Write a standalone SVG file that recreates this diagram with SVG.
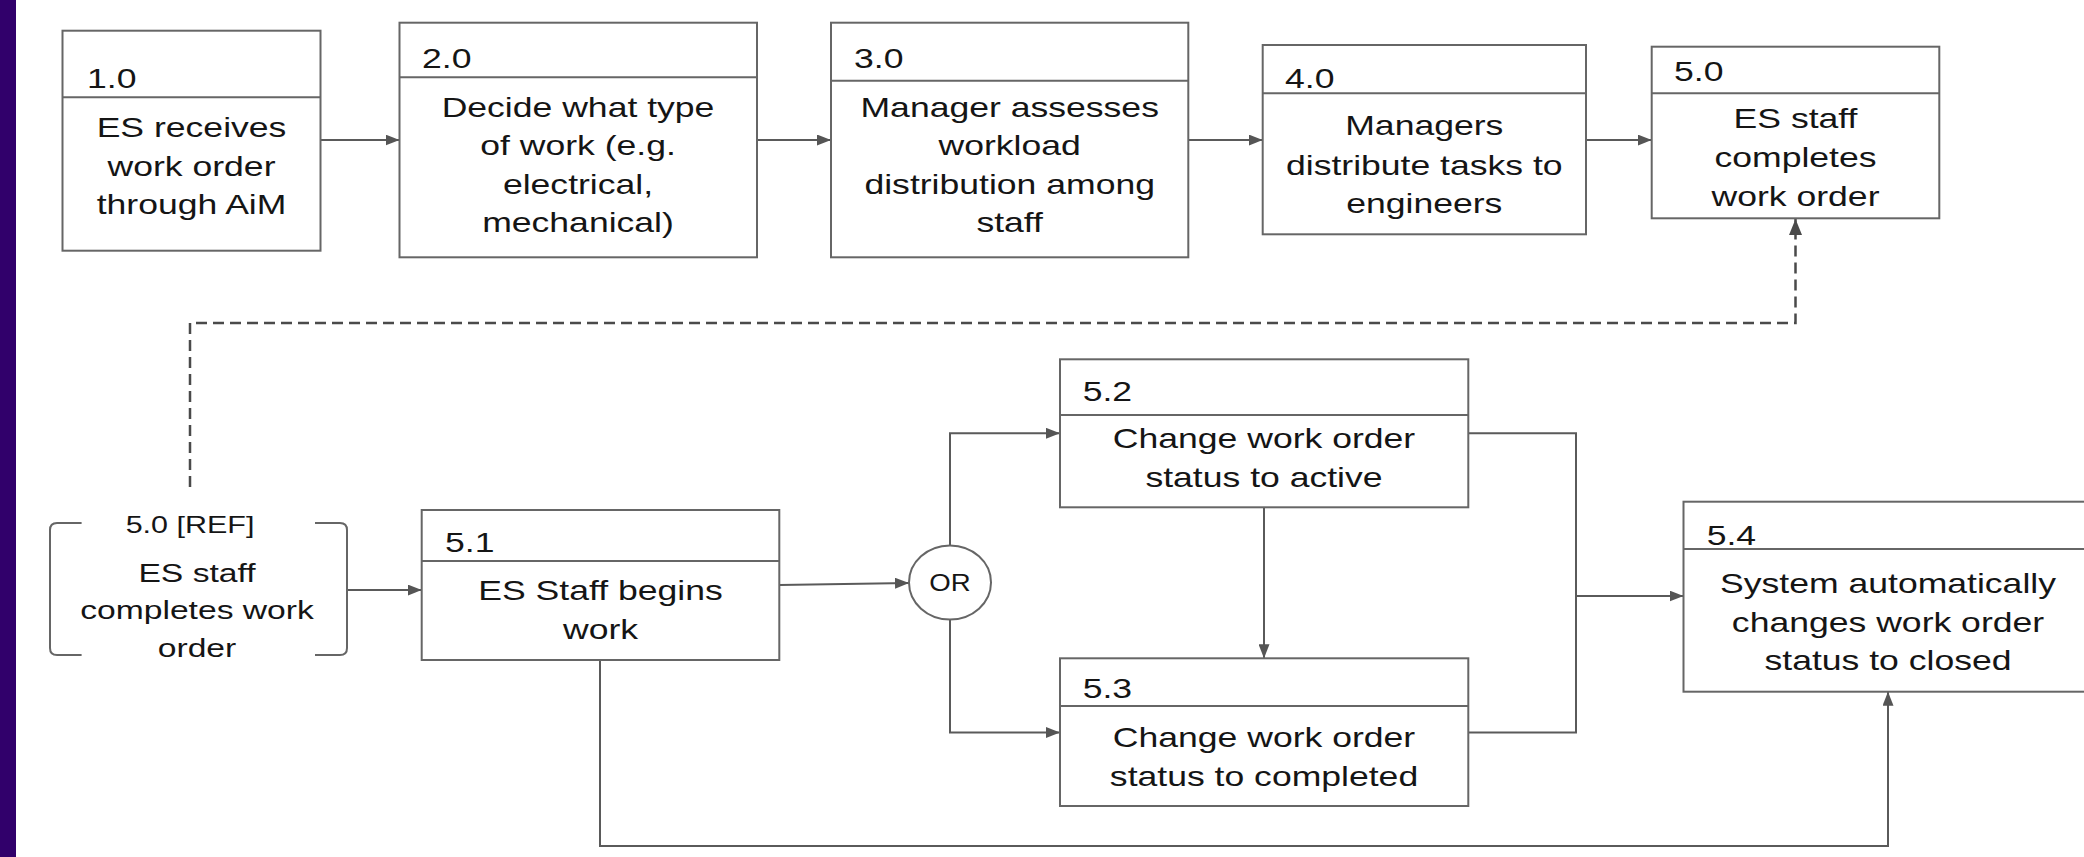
<svg xmlns="http://www.w3.org/2000/svg" width="2084" height="857" viewBox="0 0 2084 857">
<style>
.bx{fill:#fff;stroke:#666;stroke-width:2}
.dv{stroke:#666;stroke-width:2}
.t{font-family:"Liberation Sans",Arial,sans-serif;font-size:28px;fill:#151515}
.m{text-anchor:middle}
.c{fill:none;stroke:#5a5a5a;stroke-width:2}
.d{fill:none;stroke:#4a4a4a;stroke-width:2.5;stroke-dasharray:11 6}
.br{fill:none;stroke:#666;stroke-width:2}
</style>
<defs>
<marker id="arr" markerUnits="userSpaceOnUse" markerWidth="14" markerHeight="11" refX="14" refY="5.5" orient="auto"><path d="M0,0 L14,5.5 L0,11 z" fill="#555"/></marker>
<marker id="arrd" markerUnits="userSpaceOnUse" markerWidth="16" markerHeight="13" refX="16" refY="6.5" orient="auto"><path d="M0,0 L16,6.5 L0,13 z" fill="#4a4a4a"/></marker>
</defs>
<rect x="0" y="0" width="2084" height="857" fill="#fff"/>
<rect x="0" y="0" width="16" height="857" fill="#31006b"/>

<g id="connectors">
<path class="c" d="M320.5,140 H399.5" marker-end="url(#arr)"/>
<path class="c" d="M757,140 H831" marker-end="url(#arr)"/>
<path class="c" d="M1188.3,140 H1262.7" marker-end="url(#arr)"/>
<path class="c" d="M1583,140 H1651.7" marker-end="url(#arr)"/>
<path class="d" d="M190,487 V323 H1795.5 V219" marker-end="url(#arrd)"/>
<path class="c" d="M347,590 H421.7" marker-end="url(#arr)"/>
<path class="c" d="M779.3,585 L909,583" marker-end="url(#arr)"/>
<path class="c" d="M950,546 V433.3 H1060" marker-end="url(#arr)"/>
<path class="c" d="M950,619 V732.5 H1060" marker-end="url(#arr)"/>
<path class="c" d="M1264,507.3 V658.3" marker-end="url(#arr)"/>
<path class="c" d="M1468.3,433.3 H1576 V732.5 H1468.3"/>
<path class="c" d="M1576,596 H1683.5" marker-end="url(#arr)"/>
<path class="c" d="M600,660 V846 H1888 V691.7" marker-end="url(#arr)"/>
</g>

<g id="n1">
<rect class="bx" x="62.5" y="30.7" width="258" height="220"/>
<line class="dv" x1="62.5" y1="97.3" x2="320.5" y2="97.3"/>
<text class="t" transform="matrix(1.27 0 0 1 87 88)">1.0</text>
<text class="t m" transform="matrix(1.27 0 0 1 191.5 0)"><tspan x="0" y="136.7">ES receives</tspan><tspan x="0" y="175.7">work order</tspan><tspan x="0" y="214">through AiM</tspan></text>
</g>

<g id="n2">
<rect class="bx" x="399.5" y="22.7" width="357.5" height="234.6"/>
<line class="dv" x1="399.5" y1="77.3" x2="757" y2="77.3"/>
<text class="t" transform="matrix(1.27 0 0 1 422 68.3)">2.0</text>
<text class="t m" transform="matrix(1.27 0 0 1 578 0)"><tspan x="0" y="116.7">Decide what type</tspan><tspan x="0" y="155">of work (e.g.</tspan><tspan x="0" y="194">electrical,</tspan><tspan x="0" y="231.7">mechanical)</tspan></text>
</g>

<g id="n3">
<rect class="bx" x="831" y="22.7" width="357.3" height="234.6"/>
<line class="dv" x1="831" y1="80.7" x2="1188.3" y2="80.7"/>
<text class="t" transform="matrix(1.27 0 0 1 854 68.3)">3.0</text>
<text class="t m" transform="matrix(1.27 0 0 1 1009.7 0)"><tspan x="0" y="116.7">Manager assesses</tspan><tspan x="0" y="155.3">workload</tspan><tspan x="0" y="194">distribution among</tspan><tspan x="0" y="232.3">staff</tspan></text>
</g>

<g id="n4">
<rect class="bx" x="1262.7" y="45" width="323.3" height="189.3"/>
<line class="dv" x1="1262.7" y1="93.3" x2="1586" y2="93.3"/>
<text class="t" transform="matrix(1.27 0 0 1 1285 88.3)">4.0</text>
<text class="t m" transform="matrix(1.27 0 0 1 1424.3 0)"><tspan x="0" y="135">Managers</tspan><tspan x="0" y="175">distribute tasks to</tspan><tspan x="0" y="213.3">engineers</tspan></text>
</g>

<g id="n5">
<rect class="bx" x="1651.7" y="46.7" width="287.6" height="171.6"/>
<line class="dv" x1="1651.7" y1="93.3" x2="1939.3" y2="93.3"/>
<text class="t" transform="matrix(1.27 0 0 1 1674 81)">5.0</text>
<text class="t m" transform="matrix(1.27 0 0 1 1795.5 0)"><tspan x="0" y="128.3">ES staff</tspan><tspan x="0" y="166.7">completes</tspan><tspan x="0" y="206">work order</tspan></text>
</g>

<g id="ref">
<path class="br" d="M81.6,523 H57 Q50,523 50,530 V648 Q50,655 57,655 H81.6"/>
<path class="br" d="M315,523 H340 Q347,523 347,530 V648 Q347,655 340,655 H315"/>
<text class="t m" style="font-size:24px" transform="matrix(1.27 0 0 1 190 533)">5.0 [REF]</text>
<text class="t m" style="font-size:26.5px" transform="matrix(1.27 0 0 1 197 0)"><tspan x="0" y="581.7">ES staff</tspan><tspan x="0" y="619.3">completes work</tspan><tspan x="0" y="656.7">order</tspan></text>
</g>

<g id="n51">
<rect class="bx" x="421.7" y="510" width="357.6" height="150"/>
<line class="dv" x1="421.7" y1="561" x2="779.3" y2="561"/>
<text class="t" transform="matrix(1.27 0 0 1 445 551.7)">5.1</text>
<text class="t m" transform="matrix(1.27 0 0 1 600.5 0)"><tspan x="0" y="600">ES Staff begins</tspan><tspan x="0" y="639.3">work</tspan></text>
</g>

<g id="or">
<ellipse cx="950" cy="582.5" rx="41" ry="37" fill="#fff" stroke="#666" stroke-width="2"/>
<text class="t m" style="font-size:24px" transform="matrix(1.15 0 0 1 950 591)">OR</text>
</g>

<g id="n52">
<rect class="bx" x="1060" y="359.3" width="408.3" height="148"/>
<line class="dv" x1="1060" y1="415" x2="1468.3" y2="415"/>
<text class="t" transform="matrix(1.27 0 0 1 1082.7 400.7)">5.2</text>
<text class="t m" transform="matrix(1.27 0 0 1 1264 0)"><tspan x="0" y="448.3">Change work order</tspan><tspan x="0" y="486.7">status to active</tspan></text>
</g>

<g id="n53">
<rect class="bx" x="1060" y="658.3" width="408.3" height="147.7"/>
<line class="dv" x1="1060" y1="706" x2="1468.3" y2="706"/>
<text class="t" transform="matrix(1.27 0 0 1 1082.7 698.3)">5.3</text>
<text class="t m" transform="matrix(1.27 0 0 1 1264 0)"><tspan x="0" y="747.3">Change work order</tspan><tspan x="0" y="786">status to completed</tspan></text>
</g>

<g id="n54">
<rect class="bx" x="1683.5" y="501.7" width="420" height="190"/>
<line class="dv" x1="1683.5" y1="549" x2="2103.5" y2="549"/>
<text class="t" transform="matrix(1.27 0 0 1 1706.7 545)">5.4</text>
<text class="t m" transform="matrix(1.27 0 0 1 1888 0)"><tspan x="0" y="593">System automatically</tspan><tspan x="0" y="632">changes work order</tspan><tspan x="0" y="670">status to closed</tspan></text>
</g>
</svg>
